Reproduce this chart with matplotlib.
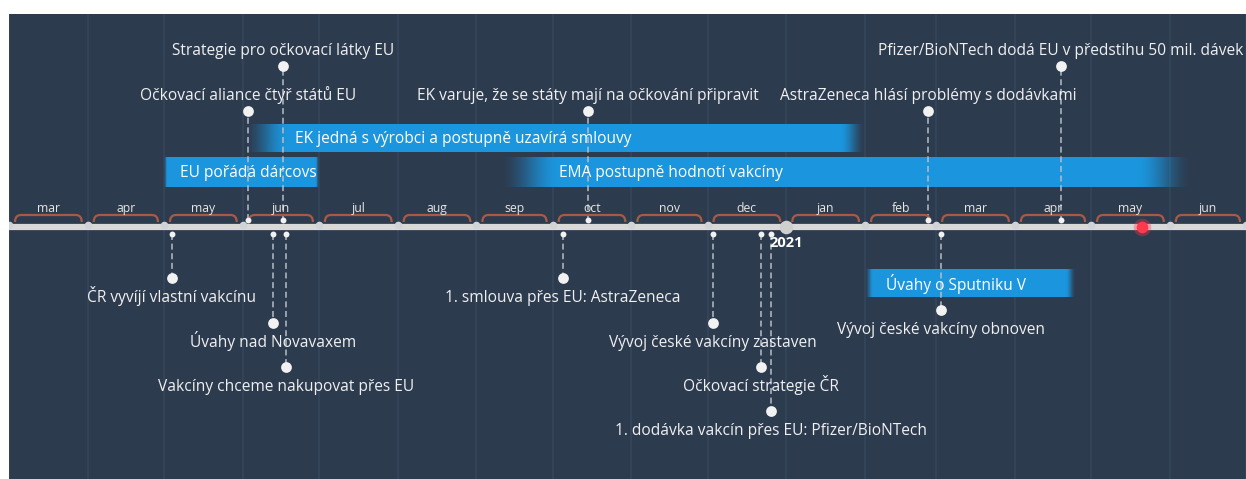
import matplotlib
matplotlib.use('Agg')
import matplotlib.pyplot as plt
import matplotlib.dates as mdates
from matplotlib.patches import PathPatch
from matplotlib.path import Path
from matplotlib.transforms import Bbox, TransformedBbox
import numpy as np
import pandas as pd

# ---------------- data ----------------
month_labels = ['mar', 'apr', 'may', 'jun', 'jul', 'aug', 'sep', 'oct',
                'nov', 'dec', 'jan', 'feb', 'mar', 'apr', 'may', 'jun']
view_start = '2020-03-01'
view_end = '2021-07-01'

top_labels = ['Strategie pro očkovací látky EU',
              'Očkovací aliance čtyř států EU',
              'EK varuje, že se státy mají na očkování připravit',
              'AstraZeneca hlásí problémy s dodávkami',
              'Pfizer/BioNTech dodá EU v předstihu 50 mil. dávek']
top_dates = ['2020-06-17', '2020-06-03', '2020-10-15', '2021-02-26', '2021-04-19']
top_level = [66, 111, 111, 111, 66]

bottom_labels = ['ČR vyvíjí vlastní vakcínu',
                 'Úvahy nad Novavaxem',
                 'Vakcíny chceme nakupovat přes EU',
                 '1. smlouva přes EU: AstraZeneca',
                 'Vývoj české vakcíny zastaven',
                 'Očkovací strategie ČR',
                 '1. dodávka vakcín přes EU: Pfizer/BioNTech',
                 'Vývoj české vakcíny obnoven']
bottom_dates = ['2020-05-04', '2020-06-13', '2020-06-18', '2020-10-05',
                '2020-12-03', '2020-12-22', '2020-12-26', '2021-03-03']
bottom_level = [278, 323, 367, 278, 323, 367, 411, 310]

range_labels = ['EK jedná s výrobci a postupně uzavírá smlouvy',
                'EU pořádá dárcovskou konferenci',
                'EMA postupně hodnotí vakcíny',
                'Úvahy o Sputniku V']
range_starts = ['2020-06-01', '2020-05-01', '2020-09-10', '2021-02-01']
range_ends = ['2021-02-01', '2020-07-01', '2021-06-10', '2021-04-25']
range_top = [124, 157, 157, 269]
range_bottom = [152, 187, 187, 297]

year_marker = '2021-01-01'
today_marker = '2021-05-21'

# ---------------- styles ----------------
range_text_pad = [52, 16, 60, 21]          # px
range_fade = [(45, 25), (3, 3), (60, 55), (8, 10)]  # px left/right

BG = '#2d3b4f'
GRID = '#36465b'
BLUE = (27 / 255, 150 / 255, 222 / 255)
TXT = '#f0f0f0'
DASH = '#b4bec8'
BRACE = '#a85a45'
AXIS = '#d9d9d9'
FONT = ['Open Sans', 'DejaVu Sans']
FS = 11.2

plt.rcParams['font.family'] = FONT

W, H = 1246, 479
fig = plt.figure(figsize=(W / 100, H / 100), dpi=100, facecolor='white')
ax_left, ax_top = 9, 14
ax = fig.add_axes([ax_left / W, 0, (W - ax_left) / W, (H - ax_top) / H])
ax.set_facecolor(BG)
for s in ax.spines.values():
    s.set_visible(False)
ax.set_xticks([])
ax.set_yticks([])

d = lambda s: mdates.date2num(pd.Timestamp(s))
x0v, x1v = d(view_start), d(view_end)
ax.set_xlim(x0v, x1v)
ax.set_ylim(H, ax_top)
ppd = (W - ax_left) / (x1v - x0v)   # pixels per day
px = lambda p: p / ppd              # px -> days

month_starts = pd.date_range(view_start, view_end, freq='MS')
ms = [d(m) for m in month_starts]

AXIS_Y = 227

# grid lines at month boundaries
for m in ms:
    ax.axvline(m, color=GRID, lw=1.2, zorder=1)

# range bars with faded ends
for lab, s, e, yt, yb, pad, (fl, fr) in zip(range_labels, range_starts, range_ends,
                                            range_top, range_bottom, range_text_pad, range_fade):
    xs, xe = d(s), d(e)
    n = 600
    xx = np.linspace(0, (xe - xs) * ppd, n)
    a = np.minimum(np.clip(xx / fl, 0, 1), np.clip(((xe - xs) * ppd - xx) / fr, 0, 1))
    a = a * a * (3 - 2 * a)
    img = np.zeros((1, n, 4))
    img[..., 0], img[..., 1], img[..., 2] = BLUE
    img[0, :, 3] = a
    ax.imshow(img, extent=(xs, xe, yb, yt), aspect='auto', interpolation='bilinear', zorder=2)
    t = ax.text(xs + px(pad), (yt + yb) / 2 + 1, lab, color='white', fontsize=FS,
                ha='left', va='center', zorder=7)
    t.set_clip_path(None)
    t.set_clip_box(TransformedBbox(Bbox([[xs, yt], [xe - px(2), yb]]), ax.transData))
    t.set_clip_on(True)

ax.set_xlim(x0v, x1v)
ax.set_ylim(H, ax_top)

# axis line
ax.plot([x0v, x1v], [AXIS_Y, AXIS_Y], color=AXIS, lw=4.5, solid_capstyle='butt', zorder=4)

# braces and month labels
r = 6
for i, lab in enumerate(month_labels):
    a0, a1 = ms[i] + px(6), ms[i + 1] - px(6)
    yb, yt = 222, 215
    verts = [(a0, yb), (a0, yt), (a0 + px(r), yt), (a1 - px(r), yt), (a1, yt), (a1, yb)]
    codes = [Path.MOVETO, Path.CURVE3, Path.CURVE3, Path.LINETO, Path.CURVE3, Path.CURVE3]
    ax.add_patch(PathPatch(Path(verts, codes), fill=False, edgecolor=BRACE, lw=1.6, zorder=5))
    ax.text((ms[i] + ms[i + 1]) / 2, 212, lab, color='#e6e6e6', fontsize=8.8,
            ha='center', va='baseline', zorder=7)

# month boundary dots
ax.scatter(ms, [AXIS_Y - 2] * len(ms), s=30, color='#d0d4d8', zorder=5, linewidths=0)

# year marker
ax.scatter([d(year_marker)], [AXIS_Y], s=95, color='#cfcfcf', zorder=6, linewidths=0)
ax.text(d(year_marker), 247, '2021', color='white', fontsize=10.5, fontweight='bold',
        ha='center', va='baseline', zorder=7)

# today marker
ax.scatter([d(today_marker)], [AXIS_Y], s=160, color='#ff3347', alpha=0.35, zorder=6, linewidths=0)
ax.scatter([d(today_marker)], [AXIS_Y], s=70, color='#ff3a4c', zorder=6, linewidths=0)

# events above
for lab, dt_, lv in zip(top_labels, top_dates, top_level):
    x = d(dt_)
    ax.plot([x, x], [220, lv], color=DASH, lw=1.1, ls=(0, (3.9, 2.4)), zorder=3)
    ax.scatter([x], [220], s=18, color='#f2f2f2', zorder=6, linewidths=0)
    ax.scatter([x], [lv], s=60, color='#f2f2f2', zorder=6, linewidths=0)
    ax.text(x, lv - 11, lab, color=TXT, fontsize=FS, ha='center', va='baseline', zorder=7)

# events below
for lab, dt_, lv in zip(bottom_labels, bottom_dates, bottom_level):
    x = d(dt_)
    ax.plot([x, x], [234, lv], color=DASH, lw=1.1, ls=(0, (3.9, 2.4)), zorder=3)
    ax.scatter([x], [234], s=18, color='#f2f2f2', zorder=6, linewidths=0)
    ax.scatter([x], [lv], s=60, color='#f2f2f2', zorder=6, linewidths=0)
    ax.text(x, lv + 24, lab, color=TXT, fontsize=FS, ha='center', va='baseline', zorder=7)

fig.savefig('out.png', dpi=100, facecolor='white')
